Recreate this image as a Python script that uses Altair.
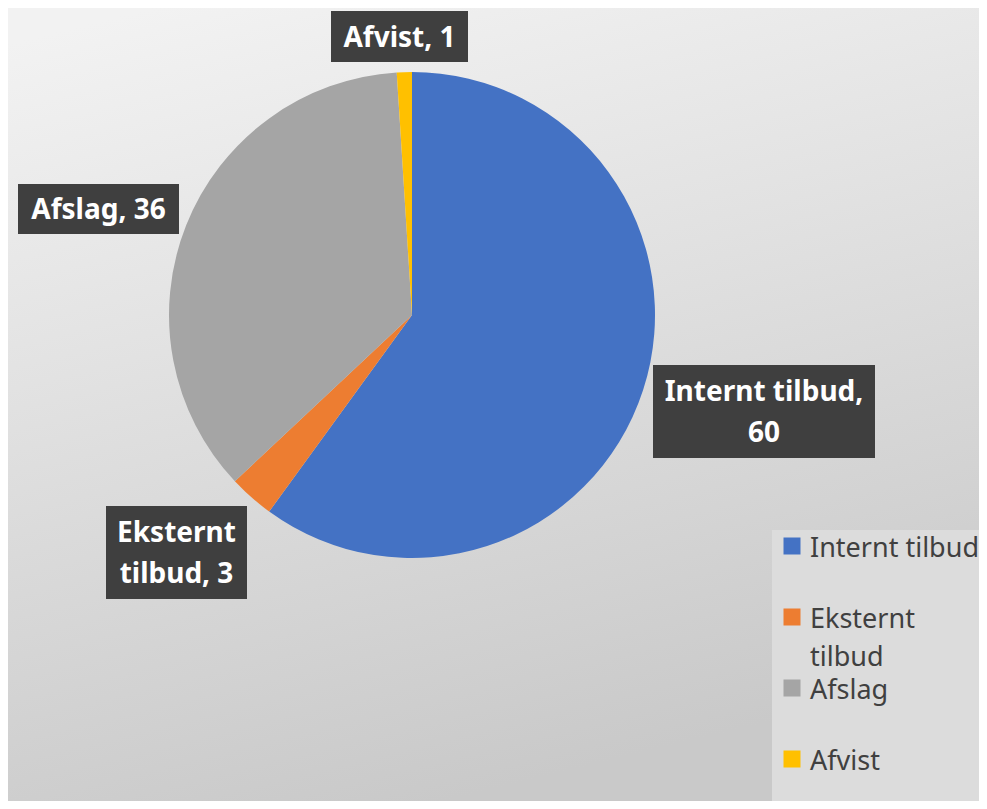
import altair as alt
import pandas as pd

# ---- data ----
categories = ["Internt tilbud", "Eksternt tilbud", "Afslag", "Afvist"]
values = [60, 3, 36, 1]
colors = ["#4472C4", "#ED7D31", "#A5A5A5", "#FFC000"]
label_lines = ["Internt tilbud,\n60", "Eksternt\ntilbud, 3", "Afslag, 36", "Afvist, 1"]
legend_lines = ["Internt tilbud", "Eksternt\ntilbud", "Afslag", "Afvist"]

# ---- layout (chart pixel coords; page margin 8px already subtracted) ----
W, H = 971, 793
CX, CY, R = 404, 307, 243
LH = 41
# label box centers and sizes
box_cx = [756, 168.5, 90.5, 391.5]
box_cy = [403.5, 544.5, 201, 28.5]
box_w = [222, 141, 161, 137]
box_h = [93, 93, 50, 51]

df = pd.DataFrame({"category": categories, "value": values,
                   "order": list(range(len(categories)))})

nlines = [t.count("\n") + 1 for t in label_lines]
lab = pd.DataFrame({
    "text": label_lines,
    "cx": box_cx,
    "base": [c - (n - 1) * LH / 2 + 10 for c, n in zip(box_cy, nlines)],
    "x1": [c - w / 2 for c, w in zip(box_cx, box_w)],
    "x2": [c + w / 2 for c, w in zip(box_cx, box_w)],
    "y1": [c - h / 2 for c, h in zip(box_cy, box_h)],
    "y2": [c + h / 2 for c, h in zip(box_cy, box_h)],
})

leg = pd.DataFrame({"category": categories, "text": legend_lines,
                    "order": list(range(len(categories)))})

color_scale = alt.Scale(domain=categories, range=colors)

bg = alt.Chart(pd.DataFrame({"a": [0]})).mark_rect(
    color=alt.Gradient(
        gradient="linear", x1=0.15, y1=0, x2=0.45, y2=1,
        stops=[alt.GradientStop(color="#f2f2f2", offset=0),
               alt.GradientStop(color="#e2e2e2", offset=0.4),
               alt.GradientStop(color="#c9c9c9", offset=1)])
).encode(x=alt.value(0), x2=alt.value(W), y=alt.value(0), y2=alt.value(H))

pie = alt.Chart(df).mark_arc(radius=R).encode(
    theta=alt.Theta("value:Q", stack=True),
    color=alt.Color("category:N", scale=color_scale, legend=None),
    order=alt.Order("order:Q"),
    x=alt.value(CX), y=alt.value(CY),
)

boxes = alt.Chart(lab).mark_rect(color="#3f3f3f").encode(
    x=alt.X("x1:Q", scale=None), x2="x2:Q",
    y=alt.Y("y1:Q", scale=None), y2="y2:Q",
)

texts = alt.Chart(lab).mark_text(
    font="Noto Sans", fontWeight="bold", fontSize=28, color="white",
    align="center", baseline="alphabetic", lineBreak="\n", lineHeight=LH,
).encode(
    x=alt.X("cx:Q", scale=None), y=alt.Y("base:Q", scale=None), text="text:N",
)

leg_box = alt.Chart(pd.DataFrame({"a": [0]})).mark_rect(color="#dcdcdc").encode(
    x=alt.value(764), x2=alt.value(W), y=alt.value(522), y2=alt.value(H))

ly = alt.Y("order:Q", scale=alt.Scale(domain=[0, 3], range=[538, 751]), axis=None)

leg_sq = alt.Chart(leg).mark_square(size=289, opacity=1).encode(
    x=alt.value(784), y=ly,
    color=alt.Color("category:N", scale=color_scale, legend=None),
)

leg_txt = alt.Chart(leg).mark_text(
    font="Noto Sans", fontSize=27, color="#404040", align="left",
    baseline="alphabetic", lineBreak="\n", lineHeight=38, dy=11,
).encode(x=alt.value(802), y=ly, text="text:N")

chart = alt.layer(bg, pie, boxes, texts, leg_box, leg_sq, leg_txt).properties(
    width=W, height=H, padding=0, autosize=alt.AutoSizeParams(type="none"),
).configure_view(stroke=None)

chart.save("out.html", embed_options={"renderer": "svg", "actions": False})
